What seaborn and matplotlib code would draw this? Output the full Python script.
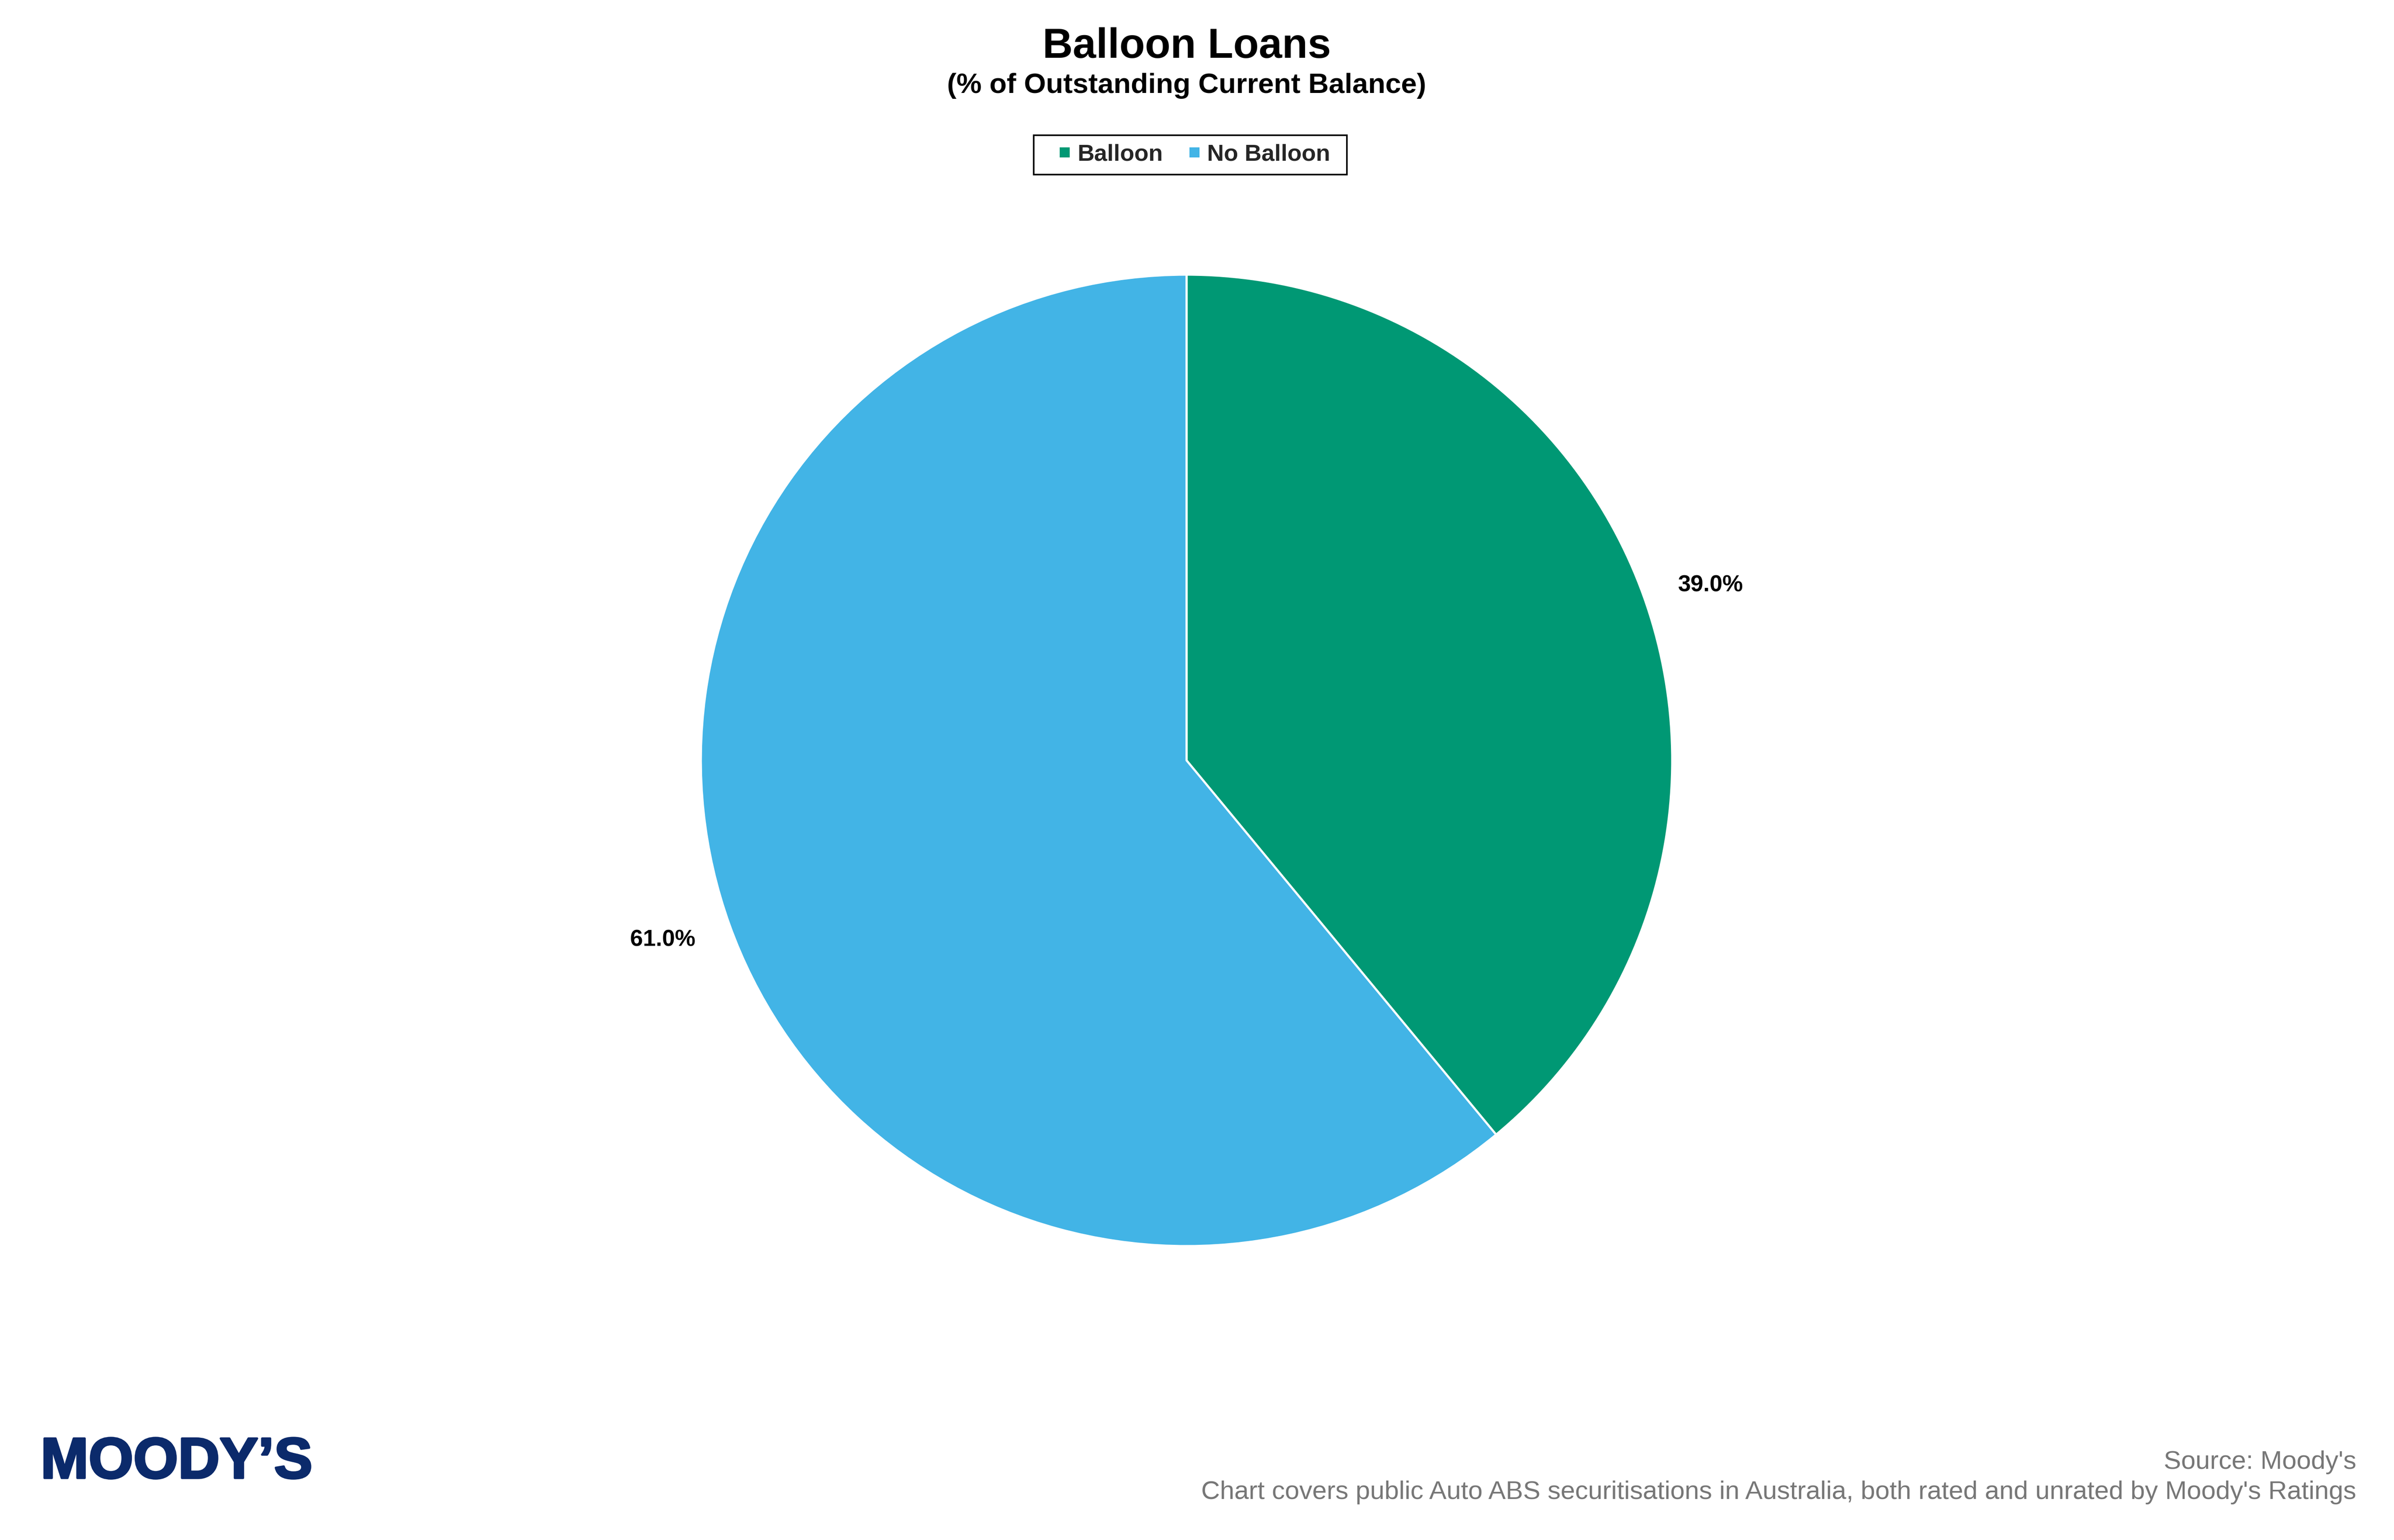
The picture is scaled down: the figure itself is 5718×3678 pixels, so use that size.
import matplotlib
matplotlib.use("Agg")
import numpy as np
import matplotlib.pyplot as plt
import matplotlib.patheffects as pe
import matplotlib.transforms as mtransforms
import seaborn as sns
from matplotlib.lines import Line2D
from matplotlib.patches import Rectangle

categories = ["Balloon", "No Balloon"]
shares = [39.0, 61.0]
colors = ["#009874", "#42B4E6"]

title = "Balloon Loans"
subtitle = "(% of Outstanding Current Balance)"
source_line = "Source: Moody's"
note_line = "Chart covers public Auto ABS securitisations in Australia, both rated and unrated by Moody's Ratings"
logo_text = "MOODY\u2019S"

sns.set_theme(style="white")
plt.rcParams['font.family'] = ['Liberation Sans', 'DejaVu Sans']

W, H, DPI = 5718, 3678, 300
fig = plt.figure(figsize=(W / DPI, H / DPI), dpi=DPI)
fig.patch.set_facecolor("white")


def fx(px):
    return px / W


def fy(py):
    return 1 - py / H


cx, cy, r = 2834, 1816, 1160
ax = fig.add_axes([fx(cx - r), fy(cy + r), 2 * r / W, 2 * r / H])
wedges, _ = ax.pie(
    shares, colors=colors, startangle=90, counterclock=False,
    wedgeprops=dict(edgecolor="white", linewidth=1.2),
)
label_tr = mtransforms.offset_copy(ax.transData, fig=fig, y=-20, units="dots")
for w, v in zip(wedges, shares):
    ang = np.deg2rad((w.theta1 + w.theta2) / 2 - 1.1)
    ax.text(1.139 * np.cos(ang), 1.139 * np.sin(ang), f"{v:.1f}%", ha="center", va="baseline",
            fontsize=13.2, fontweight="bold", color="black", transform=label_tr)
ax.set_xlim(-1, 1)
ax.set_ylim(-1, 1)
ax.set_aspect("equal")
ax.axis("off")

fig.text(fx(cx), fy(138), title, ha="center", va="baseline", fontsize=24, fontweight="bold", color="black")
fig.text(fx(cx), fy(222), subtitle, ha="center", va="baseline", fontsize=16.2, fontweight="bold", color="black")

handles = [Line2D([], [], linestyle="none", marker="s", markersize=5.6, color=c, markeredgewidth=0) for c in colors]
leg = fig.legend(handles, categories, loc="center", bbox_to_anchor=(fx(2849), fy(370)), ncol=2,
                 frameon=False, borderpad=0.0, borderaxespad=0.0,
                 handlelength=0.8, handletextpad=0.14, columnspacing=0.94,
                 prop=dict(weight="bold", size=13.4))

fig.canvas.draw()
bb = leg.get_window_extent()
em = 13.4 * DPI / 72
x0 = bb.x0 + 0.4 * em - 1.34 * em
x1 = bb.x1 + 40
yc = (bb.y0 + bb.y1) / 2
bh = 94
fig.patches.append(Rectangle((x0 / W, (yc - bh / 2) / H), (x1 - x0) / W, bh / H,
                             transform=fig.transFigure, fill=False, edgecolor="black",
                             linewidth=0.9, zorder=5))

fig.text(fx(97), fy(3530), logo_text, ha="left", va="baseline", fontsize=33, fontweight="bold",
         color="#0B2A6B", path_effects=[pe.withStroke(linewidth=1.2, foreground="#0B2A6B")])
fig.text(fx(5628), fy(3508), source_line, ha="right", va="baseline", fontsize=14.9, color="#777777")
fig.text(fx(5628), fy(3580), note_line, ha="right", va="baseline", fontsize=14.9, color="#777777")

fig.savefig("out.png", dpi=DPI, facecolor="white")
